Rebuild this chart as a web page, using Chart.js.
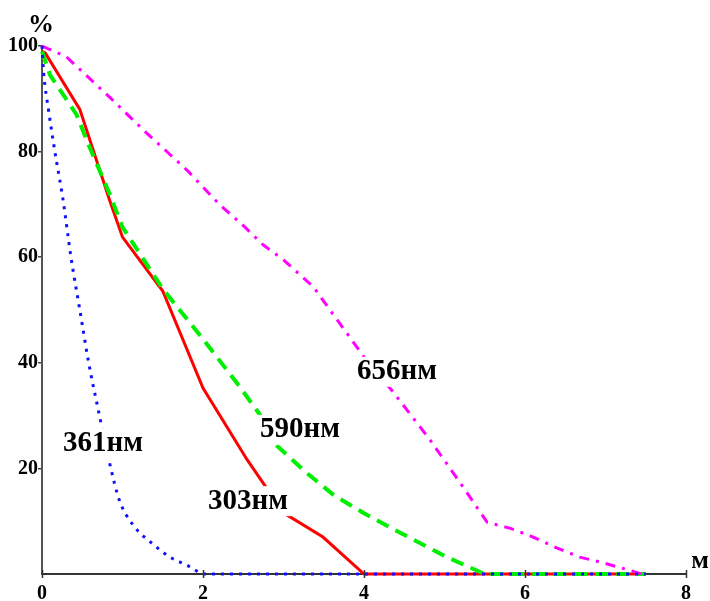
<!DOCTYPE html>
<html><head><meta charset="utf-8">
<script src="https://cdn.jsdelivr.net/npm/chart.js@4/dist/chart.umd.min.js"></script>
<style>html,body{margin:0;padding:0;background:#fff;} #c{display:block;}</style>
</head><body>
<canvas id="c" width="710" height="601"></canvas>
<script>
// ---- data ----
const xTicks = [0, 2, 4, 6, 8];
const yTicks = [20, 40, 60, 80, 100];

const x303 = [0, 0.04, 0.47, 0.84, 1.0, 1.5, 2.0, 2.55, 2.78, 3.04, 3.49, 4.0, 7.5];
const y303 = [99, 98.7, 88, 70.8, 63.8, 53.6, 35.2, 21.6, 16.5, 11.2, 7.0, 0, 0];

const x361 = [0, 0.02, 0.08, 0.16, 0.26, 0.36, 0.47, 0.58, 0.7, 0.84, 0.96, 1.13, 1.36, 1.59, 1.82, 1.94, 2.0, 7.5];
const y361 = [100, 95, 88, 80, 71, 60, 50, 40, 31, 21, 14, 9.3, 5.9, 3.2, 1.5, 0.4, 0, 0];

const x590 = [0, 0.1, 0.43, 0.57, 0.84, 1.0, 1.5, 2.0, 2.46, 2.71, 2.88, 3.3, 3.62, 4.0, 4.45, 5.03, 5.38, 5.5, 7.5];
const y590 = [99, 94.5, 87, 81.6, 72, 65.7, 54, 44.5, 35.4, 30.1, 24.8, 19, 15, 11.5, 7.8, 3.2, 0.8, 0, 0];

const x656 = [0, 0.3, 0.84, 1.3, 1.8, 2.21, 2.5, 2.75, 3.0, 3.37, 4.0, 4.36, 4.82, 5.23, 5.53, 5.81, 6.1, 6.4, 6.68, 7.0, 7.3, 7.45];
const y656 = [100, 98, 90.3, 83.5, 76.5, 69.9, 66, 62.3, 59.5, 54.4, 41.1, 34.5, 25.4, 16.5, 9.8, 8.7, 7.0, 4.9, 3.2, 2.0, 0.7, 0];

const seriesNames = ['303нм', '361нм', '590нм', '656нм'];
const axisTitleY = '%';
const axisTitleX = 'м';

// label anchors (data coordinates)
const labelAnchors = {
  '361нм': [0.758, 24.8],
  '590нм': [3.205, 27.3],
  '303нм': [2.559, 13.8],
  '656нм': [4.41, 38.3]
};

function pts(xs, ys) { return xs.map((x, i) => ({x: x, y: ys[i]})); }

const labelPlugin = {
  id: 'curveLabels',
  afterDatasetsDraw(chart) {
    const ctx = chart.ctx, sx = chart.scales.x, sy = chart.scales.y;
    ctx.save();
    // x ticks crossing the axis line
    ctx.strokeStyle = '#333';
    ctx.lineWidth = 1.5;
    xTicks.forEach(v => {
      const px = Math.round(sx.getPixelForValue(v)) + 0.5;
      ctx.beginPath();
      ctx.moveTo(px, sy.bottom - 4);
      ctx.lineTo(px, sy.bottom + 4);
      ctx.stroke();
    });
    ctx.font = 'bold 29px "Liberation Serif", "Times New Roman", serif';
    ctx.textAlign = 'center';
    ctx.textBaseline = 'middle';
    Object.keys(labelAnchors).forEach(name => {
      const px = sx.getPixelForValue(labelAnchors[name][0]);
      const py = sy.getPixelForValue(labelAnchors[name][1]);
      const w = ctx.measureText(name).width;
      ctx.fillStyle = '#fff';
      ctx.fillRect(px - w / 2 - 3, py - 15, w + 6, 30);
      ctx.fillStyle = '#000';
      ctx.fillText(name, px, py);
    });
    // axis titles
    ctx.font = 'bold 26px "Liberation Serif", "Times New Roman", serif';
    ctx.textBaseline = 'alphabetic';
    ctx.fillText(axisTitleY, sx.left - 1, sy.top - 14);
    ctx.fillText(axisTitleX, sx.right + 14, sy.bottom - 6);
    ctx.restore();
  }
};

const tickFont = {family: '"Liberation Serif", "Times New Roman", serif', size: 20, weight: 'bold'};

new Chart(document.getElementById('c'), {
  type: 'line',
  data: {
    datasets: [
      {label: seriesNames[1], data: pts(x361, y361), borderColor: '#1010ff', borderWidth: 3,
       borderDash: [3, 6], cubicInterpolationMode: 'monotone', pointRadius: 0, clip: false},
      {label: seriesNames[3], data: pts(x656, y656), borderColor: '#ff00ff', borderWidth: 3,
       borderDash: [10, 7, 3, 7], pointRadius: 0, tension: 0, clip: false},
      {label: seriesNames[2], data: pts(x590, y590), borderColor: '#00ee00', borderWidth: 4,
       borderDash: [13, 8], pointRadius: 0, tension: 0, clip: false},
      {label: seriesNames[0], data: pts(x303, y303), borderColor: '#ff0000', borderWidth: 3,
       pointRadius: 0, tension: 0, clip: false}
    ]
  },
  options: {
    responsive: false,
    animation: false,
    layout: {padding: {top: 46, right: 24, left: 0, bottom: 0}},
    plugins: {legend: {display: false}, tooltip: {enabled: false}},
    scales: {
      x: {
        type: 'linear', min: 0, max: 8,
        afterBuildTicks: s => { s.ticks = xTicks.map(v => ({value: v})); },
        afterFit: s => { s.height = 27; },
        ticks: {font: tickFont, color: '#000', padding: 0, maxRotation: 0},
        grid: {drawOnChartArea: false, drawTicks: true, tickLength: 8, color: 'rgba(0,0,0,0)'},
        border: {display: true, color: '#333', width: 2}
      },
      y: {
        type: 'linear', min: 0, max: 100,
        afterBuildTicks: s => { s.ticks = yTicks.map(v => ({value: v})); },
        afterFit: s => { s.width = 42; },
        ticks: {font: tickFont, color: '#000', padding: 0},
        grid: {drawOnChartArea: false, drawTicks: true, tickLength: 4, color: '#444', lineWidth: 1.5},
        border: {display: true, color: '#555', width: 2}
      }
    }
  },
  plugins: [labelPlugin]
});
</script>
</body></html>
